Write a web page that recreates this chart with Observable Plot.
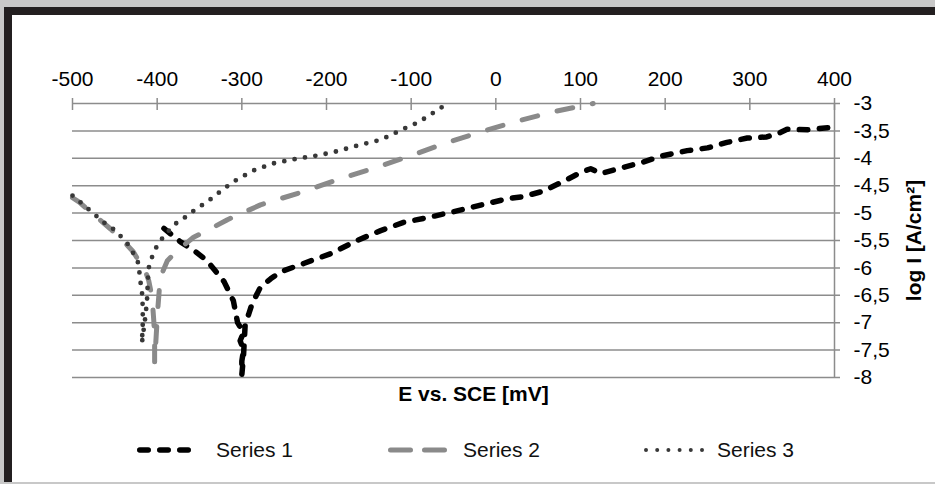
<!DOCTYPE html>
<html>
<head>
<meta charset="utf-8">
<script src="https://cdn.jsdelivr.net/npm/d3@7"></script>
<script src="https://cdn.jsdelivr.net/npm/@observablehq/plot@0.6"></script>
<style>
  body { margin: 0; background: #c8c8c8; width: 935px; height: 484px; overflow: hidden; }
  #frame { position: absolute; left: 4px; top: 7px; width: 923px; height: 467px;
           border-top: 8px solid #231f20; border-left: 8px solid #231f20; background: #fff; }
  #legend { position: relative; height: 52px; font-family: "Liberation Sans", Arial, sans-serif; font-size: 21px; color: #111; }
  #legend svg, #legend span { position: absolute; }
  #legend span { top: 23px; line-height: 24px; }
</style>
</head>
<body>
<div id="frame">
  <div id="chart"></div>
  <div id="legend"></div>
</div>
<script>
// Tick values
const xTicks = [-500, -400, -300, -200, -100, 0, 100, 200, 300, 400];
const yTicks = [-3, -3.5, -4, -4.5, -5, -5.5, -6, -6.5, -7, -7.5, -8];

// Series names
const seriesNames = ["Series 1", "Series 2", "Series 3"];

// Series 1: E (mV) and log I
const s1E = [-392, -372, -355, -341, -321, -310, -305, -298, -302, -298, -300, -300, -298, -297, -296, -292, -288, -278, -266, -254, -227, -195, -164, -136, -109, -77, -46, -14, 13, 32, 56, 80, 100, 112, 124, 147, 174, 195, 226, 250, 273, 297, 320, 336, 344, 368, 400];
const s1I = [-5.28, -5.53, -5.70, -5.87, -6.25, -6.60, -7.00, -7.18, -7.33, -7.50, -7.70, -7.95, -7.60, -7.30, -7.02, -6.85, -6.66, -6.35, -6.20, -6.07, -5.92, -5.74, -5.50, -5.32, -5.17, -5.07, -4.96, -4.84, -4.74, -4.70, -4.60, -4.42, -4.26, -4.19, -4.28, -4.18, -4.07, -3.96, -3.86, -3.81, -3.71, -3.63, -3.61, -3.53, -3.47, -3.48, -3.43];

// Series 2
const s2E = [-500, -492, -479, -467, -455, -443, -428, -420, -413, -410, -406, -404, -403, -403, -401, -399, -397, -393, -388, -376, -357, -341, -317, -301, -278, -230, -187, -144, -100, -61, -18, 21, 68, 100, 115];
const s2I = [-4.72, -4.80, -4.98, -5.13, -5.29, -5.46, -5.71, -5.92, -6.10, -6.23, -6.54, -6.96, -7.27, -7.72, -7.20, -6.70, -6.30, -6.05, -5.87, -5.68, -5.44, -5.32, -5.12, -5.01, -4.85, -4.62, -4.39, -4.18, -3.95, -3.73, -3.52, -3.34, -3.15, -3.05, -3.00];

// Series 3
const s3E = [-500, -487, -475, -463, -449, -435, -429, -422, -420, -418, -417, -417, -418, -414, -412, -411, -410, -406, -402, -396, -388, -378, -369, -359, -339, -319, -307, -286, -262, -236, -211, -187, -162, -138, -124, -113, -91, -69, -57];
const s3I = [-4.68, -4.85, -5.01, -5.17, -5.32, -5.56, -5.71, -5.92, -6.23, -6.42, -6.72, -7.02, -7.37, -6.90, -6.60, -6.23, -6.00, -5.80, -5.65, -5.50, -5.35, -5.19, -5.10, -4.98, -4.77, -4.53, -4.40, -4.22, -4.09, -4.01, -3.95, -3.87, -3.76, -3.67, -3.58, -3.49, -3.34, -3.12, -3.00];

const rows = (E, I) => E.map((e, i) => ({E: e, I: I[i]}));
const fmt = d => String(d).replace(".", ",");
const gridColor = "#8c8c8c";
const font = "'Liberation Sans', Arial, sans-serif";

const styles = [
  {stroke: "#000000", strokeWidth: 5.5, strokeDasharray: "8.5,11.5"},
  {stroke: "#8a8a8a", strokeWidth: 5, strokeDasharray: "16,20"},
  {stroke: "#383838", strokeWidth: 4.8, strokeDasharray: "0,10.5"}
];

const chart = Plot.plot({
  width: 923,
  height: 400,
  marginLeft: 60,
  marginRight: 101,
  marginTop: 88,
  marginBottom: 38,
  x: {domain: [-500, 400]},
  y: {domain: [-8, -3]},
  style: {fontFamily: font, fontSize: "21px", color: "#000", background: "transparent", overflow: "visible"},
  marks: [
    Plot.ruleY(yTicks, {x1: -500, x2: 400, insetRight: -6, stroke: gridColor, strokeWidth: 1.5}),
    Plot.ruleX([400], {y1: -8, y2: -3, stroke: gridColor, strokeWidth: 1.5}),
    Plot.ruleX(xTicks, {y1: -3, y2: -3, insetTop: -5, insetBottom: -7, stroke: gridColor, strokeWidth: 1.5}),
    Plot.axisX({anchor: "top", ticks: xTicks, tickSize: 0, tickPadding: 18, tickFormat: fmt, label: null, fill: "#000"}),
    Plot.axisY({anchor: "right", ticks: yTicks, tickSize: 0, tickPadding: 19, tickFormat: fmt, label: null, fill: "#000"}),
    Plot.line(rows(s1E, s1I), {x: "E", y: "I", ...styles[0], strokeLinecap: "round", strokeLinejoin: "round"}),
    Plot.line(rows(s2E, s2I), {x: "E", y: "I", ...styles[1], strokeLinecap: "round", strokeLinejoin: "round"}),
    Plot.line(rows(s3E, s3I), {x: "E", y: "I", ...styles[2], strokeLinecap: "round", strokeLinejoin: "round"}),
    Plot.text(["E vs. SCE [mV]"], {frameAnchor: "bottom", dy: 17, dx: 20, fontWeight: "bold", fontSize: 21, lineAnchor: "middle", fill: "#000"}),
    Plot.text(["log I [A/cm²]"], {frameAnchor: "right", dx: 80, rotate: -90, fontWeight: "bold", fontSize: 21, textAnchor: "middle", fill: "#000"})
  ]
});
document.getElementById("chart").appendChild(chart);

// Legend
const legend = d3.select("#legend");
const swatchLeft = [125, 376, 632];
const swatchWidth = [58, 62, 60];
const textLeft = [204, 451, 705];
seriesNames.forEach((name, i) => {
  const svg = legend.append("svg")
    .attr("width", swatchWidth[i] + 4).attr("height", 12)
    .style("left", (swatchLeft[i] - 2) + "px").style("top", "29px");
  const st = i === 1 ? {...styles[1], strokeDasharray: "20,14"} : i === 2 ? {...styles[2], strokeWidth: 4, strokeDasharray: "0,11.2"} : styles[0];
  svg.append("line")
    .attr("x1", 2 + st.strokeWidth / 2).attr("x2", 2 + swatchWidth[i] - st.strokeWidth / 2)
    .attr("y1", 6).attr("y2", 6)
    .attr("stroke", st.stroke).attr("stroke-width", st.strokeWidth)
    .attr("stroke-dasharray", st.strokeDasharray).attr("stroke-linecap", "round");
  legend.append("span").style("left", textLeft[i] + "px").text(name);
});
</script>
</body>
</html>
